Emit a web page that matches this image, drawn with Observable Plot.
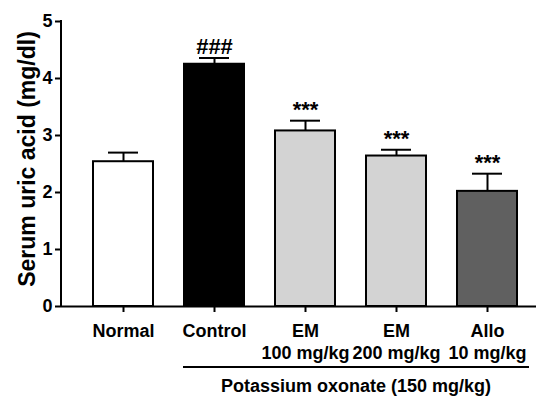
<!DOCTYPE html>
<html>
<head>
<meta charset="utf-8">
<script src="https://cdn.jsdelivr.net/npm/d3@7"></script>
<script src="https://cdn.jsdelivr.net/npm/@observablehq/plot@0.6"></script>
<style>
  html, body { margin: 0; padding: 0; background: #fff; overflow: hidden; }
</style>
</head>
<body>
<div id="chart"></div>
<script>
const categories = ["Normal", "Control", "EM100", "EM200", "Allo"];
const tickLabels = ["Normal", "Control", "EM\n100 mg/kg", "EM\n200 mg/kg", "Allo\n10 mg/kg"];
const means = [2.54, 4.25, 3.08, 2.64, 2.02];
const sems = [0.16, 0.11, 0.18, 0.11, 0.31];
const fills = ["#ffffff", "#000000", "#d3d3d3", "#d3d3d3", "#606060"];
const significance = ["", "###", "***", "***", "***"];
const yTicks = [0, 1, 2, 3, 4, 5];
const yTitle = "Serum uric acid (mg/dl)";
const groupLabel = "Potassium oxonate (150 mg/kg)";
const groupMembers = ["Control", "EM100", "EM200", "Allo"];

const data = categories.map((c, i) => ({
  cat: c, mean: means[i], sem: sems[i], top: means[i] + sems[i], fill: fills[i], sig: significance[i]
}));

const font = "'Liberation Sans', Arial, Helvetica, sans-serif";

const plot = Plot.plot({
  width: 538,
  height: 396,
  marginLeft: 61,
  marginRight: 2,
  marginTop: 21,
  marginBottom: 90,
  style: {fontFamily: font, fontWeight: "bold", fontSize: "18px", color: "black", background: "white"},
  x: {domain: categories, paddingInner: 0.34, paddingOuter: 0.17, insetLeft: 16.5, insetRight: 3.5, label: null},
  y: {domain: [0, 5], label: null},
  marks: [
    Plot.barY(data, {x: "cat", y: "mean", fill: "fill", stroke: "black", strokeWidth: 2}),
    Plot.ruleX(data, {x: "cat", y1: "mean", y2: "top", stroke: "black", strokeWidth: 2}),
    Plot.tickY(data, {x: "cat", y: "top", stroke: "black", strokeWidth: 2, insetLeft: 15, insetRight: 15}),
    Plot.text(data, {x: "cat", y: "top", text: "sig", fontSize: 22, fontWeight: "bold", lineAnchor: "bottom", dy: -4, fill: "black"}),
    Plot.axisY({ticks: yTicks, tickSize: 6, tickPadding: 3, tickFormat: "d", strokeWidth: 2, label: null}),
    Plot.axisX({tickSize: 6, tickPadding: 9, strokeWidth: 2, lineHeight: 1.22,
      tickFormat: d => tickLabels[categories.indexOf(d)], label: null}),
    Plot.ruleY([0], {stroke: "black", strokeWidth: 2}),
    Plot.text([yTitle], {frameAnchor: "left", textAnchor: "middle", rotate: -90, dx: -34, dy: -5, fontSize: 23, fontWeight: "bold", fill: "black"})
  ]
});

const svg = d3.select(plot);
const x = plot.scale("x");
const y = plot.scale("y");
const bw = x.bandwidth;
// y axis line
svg.append("line")
  .attr("x1", 61).attr("x2", 61)
  .attr("y1", y.apply(5) - 1).attr("y2", y.apply(0) + 1)
  .attr("stroke", "black").attr("stroke-width", 2);
// group bracket
const gx1 = x.apply(groupMembers[0]) - 1;
const gx2 = x.apply(groupMembers[groupMembers.length - 1]) + bw + 12;
const by = y.apply(0) + 61;
svg.append("line")
  .attr("x1", gx1).attr("x2", gx2).attr("y1", by).attr("y2", by)
  .attr("stroke", "black").attr("stroke-width", 2);
svg.append("text")
  .attr("x", (gx1 + gx2) / 2).attr("y", by + 25)
  .attr("text-anchor", "middle")
  .attr("font-family", font).attr("font-weight", "bold").attr("font-size", 18)
  .attr("fill", "black")
  .text(groupLabel);

document.getElementById("chart").appendChild(plot);
</script>
</body>
</html>
